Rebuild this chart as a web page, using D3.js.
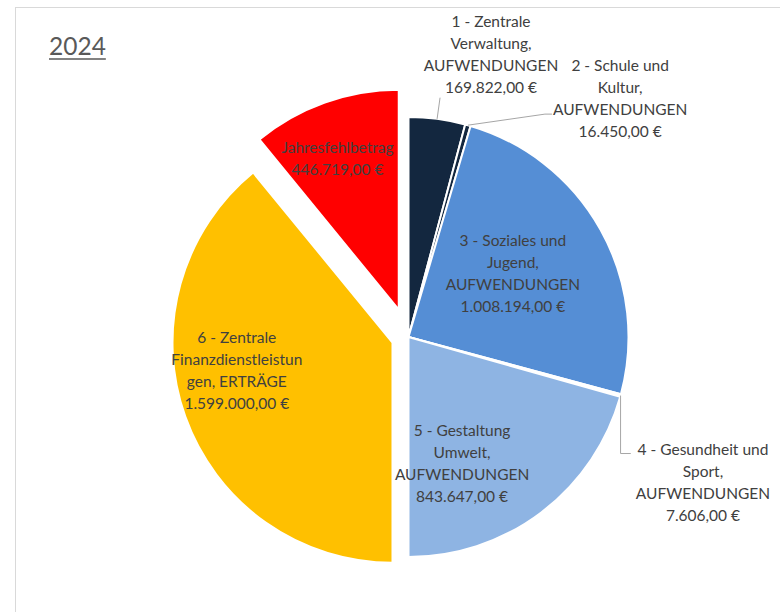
<!DOCTYPE html>
<html>
<head>
<meta charset="utf-8">
<script src="https://cdn.jsdelivr.net/npm/d3@7"></script>
<style>
  body { margin: 0; background: #fff; }
  svg text { font-family: Lato, "Open Sans", sans-serif; fill: #404040; }
</style>
</head>
<body>
<svg id="chart" width="780" height="612"></svg>
<script>
// data
const title = '2024';
const categories = [
  '1 - Zentrale Verwaltung, AUFWENDUNGEN',
  '2 - Schule und Kultur, AUFWENDUNGEN',
  '3 - Soziales und Jugend, AUFWENDUNGEN',
  '4 - Gesundheit und Sport, AUFWENDUNGEN',
  '5 - Gestaltung Umwelt, AUFWENDUNGEN',
  '6 - Zentrale Finanzdienstleistungen, ERTRÄGE',
  'Jahresfehlbetrag'
];
const values = [169822, 16450, 1008194, 7606, 843647, 1599000, 446719];
// label text as wrapped in the chart
const labelLines = [
  ['1 - Zentrale', 'Verwaltung,', 'AUFWENDUNGEN'],
  ['2 - Schule und', 'Kultur,', 'AUFWENDUNGEN'],
  ['3 - Soziales und', 'Jugend,', 'AUFWENDUNGEN'],
  ['4 - Gesundheit und', 'Sport,', 'AUFWENDUNGEN'],
  ['5 - Gestaltung', 'Umwelt,', 'AUFWENDUNGEN'],
  ['6 - Zentrale', 'Finanzdienstleistun', 'gen, ERTRÄGE'],
  ['Jahresfehlbetrag']
];

// styling / layout
const colors = ['#13273F', '#13273F', '#558ED5', '#FFFFFF', '#8EB4E3', '#FFC000', '#FF0000'];
const explode = [0, 0, 0, 0, 0, 17, 29];
// label anchor: angle (deg, clockwise from top) and radius factor, from the slice centre
const labelPlace = [
  { a: 16.3, f: 1.337, leader: 'below' },
  { a: 41.6, f: 1.449, leader: 'left3' },
  { a: 58.6, f: 0.556 },
  { a: 116.3, f: 1.493, leader: 'left1' },
  { a: 157, f: 0.623 },
  { a: 259.8, f: 0.719 },
  { a: 338, f: 0.743 }
];
const cx = 408.5, cy = 337, radius = 220;
const lineH = 22, fontSize = 15.5;

const svg = d3.select('#chart');
const fmt = d3.formatLocale({ decimal: ',', thousands: '.', grouping: [3], currency: ['', ' €'] }).format('$,.2f');
const polar = (a, r) => [Math.sin(a) * r, -Math.cos(a) * r];
const rad = d => d * Math.PI / 180;

// chart frame
svg.append('rect')
  .attr('x', 15.5).attr('y', 7.5)
  .attr('width', 900).attr('height', 800)
  .attr('fill', 'none').attr('stroke', '#d9d9d9');

// title
const t = svg.append('text')
  .attr('x', 49).attr('y', 55)
  .style('font-size', '24.5px').style('fill', '#595959')
  .text(title);
const tb = t.node().getBBox();
svg.append('line')
  .attr('x1', tb.x).attr('x2', tb.x + tb.width)
  .attr('y1', 59).attr('y2', 59)
  .attr('stroke', '#595959').attr('stroke-width', 1.5);

const pie = d3.pie().sort(null).value(d => d.value);
const arcs = pie(values.map((v, i) => ({ name: categories[i], value: v, i })));
const arc = d3.arc().innerRadius(0).outerRadius(radius);

const g = svg.append('g').attr('transform', `translate(${cx},${cy})`);

arcs.forEach(d => {
  const mid = (d.startAngle + d.endAngle) / 2;
  d.off = polar(mid, explode[d.data.i]);
});

g.selectAll('path.slice')
  .data(arcs)
  .join('path')
  .attr('class', 'slice')
  .attr('d', arc)
  .attr('transform', d => `translate(${d.off[0]},${d.off[1]})`)
  .attr('fill', d => colors[d.data.i])
  .attr('stroke', '#fff')
  .attr('stroke-width', 2)
  .attr('stroke-linejoin', 'round');

// labels
arcs.forEach(d => {
  const i = d.data.i;
  const p = labelPlace[i];
  const c = polar(rad(p.a), radius * p.f);
  const lx = d.off[0] + c[0], ly = d.off[1] + c[1];
  const lines = labelLines[i].concat([fmt(d.data.value)]);
  const top = ly - (lines.length - 1) * lineH / 2;
  const txt = g.append('text')
    .attr('text-anchor', 'middle')
    .style('font-size', fontSize + 'px');
  lines.forEach((s, k) => {
    txt.append('tspan').attr('x', lx).attr('y', top + k * lineH + 5.5).text(s);
  });
  if (!p.leader) return;
  const bb = txt.node().getBBox();
  const mid = (d.startAngle + d.endAngle) / 2;
  const s = polar(mid, radius);
  let pts;
  if (p.leader === 'below') {
    pts = [s, [lx - 51, top + (lines.length - 1) * lineH + 10]];
  } else if (p.leader === 'left3') {
    const e = [bb.x - 1, top + 2 * lineH + 4.5];
    pts = [s, [e[0] - 7, e[1]], e];
  } else {
    const e = [bb.x - 5, top + 4];
    pts = [s, [s[0], e[1]], e];
  }
  g.append('path')
    .attr('d', d3.line()(pts))
    .attr('fill', 'none')
    .attr('stroke', '#a6a6a6')
    .attr('stroke-width', 1);
});
</script>
</body>
</html>
